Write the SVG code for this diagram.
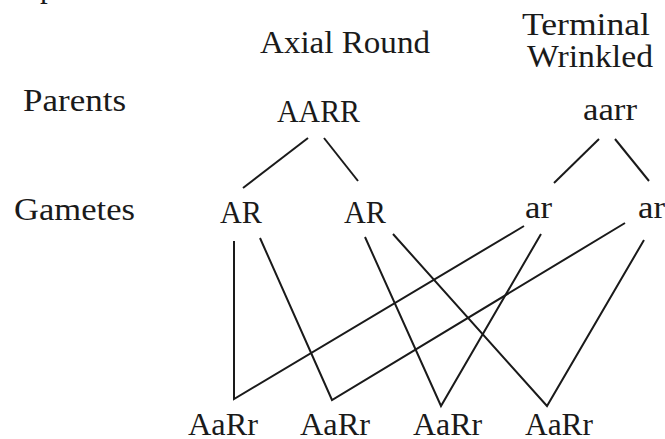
<svg xmlns="http://www.w3.org/2000/svg" width="665" height="439" viewBox="0 0 665 439">
<style>
text{font-family:"Liberation Serif","DejaVu Serif",serif;font-size:31px;fill:#1a1a1a}
.c{fill:none;stroke:#1a1a1a;stroke-width:2;stroke-linejoin:miter;stroke-linecap:butt}
</style>
<rect width="665" height="439" fill="#fff"/>
<text x="40" y="-3">p</text>
<g id="labels">
<text id="hdr-axial" x="260" y="53" textLength="170" lengthAdjust="spacingAndGlyphs">Axial Round</text>
<text id="hdr-term1" x="522" y="35" textLength="128" lengthAdjust="spacingAndGlyphs">Terminal</text>
<text id="hdr-term2" x="527" y="67" textLength="126" lengthAdjust="spacingAndGlyphs">Wrinkled</text>
<text id="lbl-parents" x="23" y="111" textLength="103" lengthAdjust="spacingAndGlyphs">Parents</text>
<text id="lbl-gametes" x="14" y="220" textLength="121" lengthAdjust="spacingAndGlyphs">Gametes</text>
</g>
<g id="p1"><text x="277" y="122" textLength="83" lengthAdjust="spacingAndGlyphs">AARR</text></g>
<g id="p2"><text x="583" y="120" textLength="54" lengthAdjust="spacingAndGlyphs">aarr</text></g>
<g id="g1"><text x="220" y="223" textLength="42" lengthAdjust="spacingAndGlyphs">AR</text></g>
<g id="g2"><text x="344" y="223" textLength="42" lengthAdjust="spacingAndGlyphs">AR</text></g>
<g id="g3"><text x="525" y="218" textLength="27" lengthAdjust="spacingAndGlyphs">ar</text></g>
<g id="g4"><text x="638" y="218" textLength="27" lengthAdjust="spacingAndGlyphs">ar</text></g>
<g id="o1"><text x="188" y="435" textLength="70" lengthAdjust="spacingAndGlyphs">AaRr</text></g>
<g id="o2"><text x="300" y="435" textLength="70" lengthAdjust="spacingAndGlyphs">AaRr</text></g>
<g id="o3"><text x="413" y="435" textLength="69" lengthAdjust="spacingAndGlyphs">AaRr</text></g>
<g id="o4"><text x="525" y="435" textLength="68" lengthAdjust="spacingAndGlyphs">AaRr</text></g>
<g id="connectors" class="c">
<line x1="308" y1="138" x2="243" y2="188"/>
<line x1="324" y1="138" x2="358" y2="181"/>
<line x1="599" y1="139" x2="554" y2="183"/>
<line x1="615" y1="139" x2="649" y2="181"/>
<polyline points="234,241 234,399 524,226"/>
<polyline points="260,238 332,400 625,223"/>
<polyline points="365,237 441,406 541,234"/>
<polyline points="393,234 547,406 644,240"/>
</g>
</svg>
